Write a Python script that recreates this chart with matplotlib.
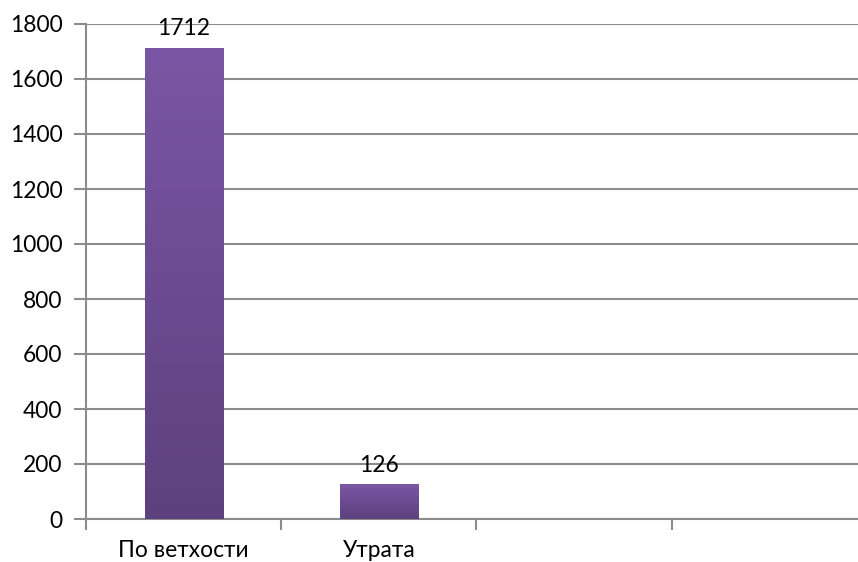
import matplotlib.pyplot as plt
import numpy as np
from matplotlib.colors import LinearSegmentedColormap

plt.rcParams['font.family'] = ['Lato', 'DejaVu Sans']

categories = ['По ветхости', 'Утрата', '', '']
values = [1712, 126, None, None]
y_ticks = [0, 200, 400, 600, 800, 1000, 1200, 1400, 1600, 1800]

GRID = '#8c8c8c'
FS = 16.4
cmap = LinearSegmentedColormap.from_list('bar', ['#5d417e', '#7b56a4'])

fig = plt.figure(figsize=(8.58, 5.62), dpi=100)
ax = fig.add_axes([86 / 858, 43 / 562, 781 / 858, 495 / 562])

x = np.arange(len(categories))
width = 0.4
for xi, v in zip(x, values):
    if v is None:
        continue
    bar = ax.bar(xi, v, width=width, color='none', edgecolor='none', zorder=3)[0]
    grad = np.linspace(0, 1, 256).reshape(-1, 1)
    im = ax.imshow(grad, cmap=cmap, aspect='auto', origin='lower',
                   extent=[xi - width / 2, xi + width / 2, 0, v], zorder=3)
    im.set_clip_path(bar)
    ax.text(xi, v + 32, str(v), ha='center', va='bottom', fontsize=FS, zorder=4)

ax.set_xlim(-0.5, len(categories) - 0.5)
ax.set_ylim(0, 1800)
ax.set_yticks(y_ticks)
ax.set_yticklabels([str(t) for t in y_ticks], fontsize=FS)
ax.set_xticks(x)
ax.set_xticklabels(categories, fontsize=FS)
ax.set_xticks(np.arange(len(categories) + 1) - 0.5, minor=True)
ax.tick_params(axis='x', which='major', length=0, pad=15)
ax.tick_params(axis='x', which='minor', length=8, width=1.5, color=GRID, direction='out')
ax.tick_params(axis='y', length=9, width=1.5, color=GRID, direction='out', pad=8)

ax.yaxis.grid(True, color=GRID, linewidth=1.5, zorder=0)
ax.set_axisbelow(True)
for s in ['top', 'right']:
    ax.spines[s].set_visible(False)
for s in ['left', 'bottom']:
    ax.spines[s].set_color(GRID)
    ax.spines[s].set_linewidth(1.5)

fig.savefig('out.png', dpi=100)
